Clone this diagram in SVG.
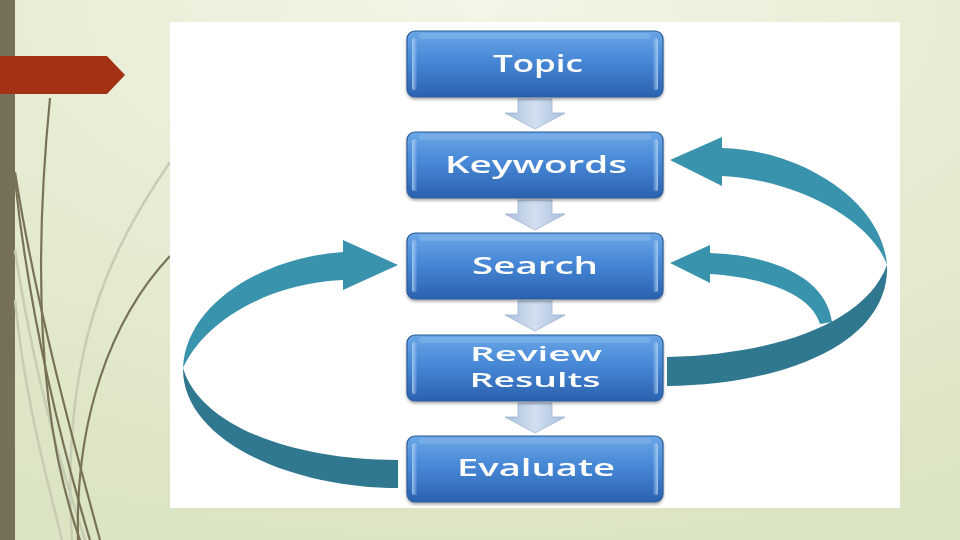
<svg xmlns="http://www.w3.org/2000/svg" width="960" height="540" viewBox="0 0 960 540">
<defs>
  <radialGradient id="bg" cx="0.5" cy="0" r="1">
    <stop offset="0" stop-color="#f3f5e6"/>
    <stop offset="1" stop-color="#dbe4c3"/>
  </radialGradient>
  <linearGradient id="box" x1="0" y1="0" x2="0" y2="1">
    <stop offset="0" stop-color="#6aa6e6"/>
    <stop offset="0.45" stop-color="#4788d6"/>
    <stop offset="1" stop-color="#2b61ae"/>
  </linearGradient>
  <linearGradient id="strip" x1="0" y1="0" x2="1" y2="0">
    <stop offset="0" stop-color="#a9cdf3" stop-opacity="0.9"/>
    <stop offset="1" stop-color="#a9cdf3" stop-opacity="0.1"/>
  </linearGradient>
  <linearGradient id="down" x1="0" y1="0" x2="1" y2="0">
    <stop offset="0" stop-color="#a9bfdc"/>
    <stop offset="0.5" stop-color="#d3dff0"/>
    <stop offset="1" stop-color="#a9bfdc"/>
  </linearGradient>
  <filter id="sh" x="-10%" y="-10%" width="120%" height="130%">
    <feGaussianBlur in="SourceAlpha" stdDeviation="1.5"/>
    <feOffset dx="0" dy="2"/>
    <feComponentTransfer><feFuncA type="linear" slope="0.35"/></feComponentTransfer>
    <feMerge><feMergeNode/><feMergeNode in="SourceGraphic"/></feMerge>
  </filter>
  <g id="boxshape">
    <rect x="0" y="0" width="256" height="66" rx="8" fill="url(#box)" stroke="#2b5a98" stroke-width="1.2"/>
    <rect x="5" y="7" width="5" height="52" rx="2.5" fill="url(#strip)"/>
    <rect x="246" y="7" width="5" height="52" rx="2.5" fill="url(#strip)" transform="rotate(180 248.5 33)"/>
    <rect x="12" y="2" width="232" height="6" rx="3" fill="#9cc6f0" opacity="0.35"/>
  </g>
  <path id="darrow" d="M -17 0 L 17 0 L 17 14 L 30 14 L 0 30 L -30 14 L -17 14 Z" fill="url(#down)" stroke="#9db3d2" stroke-width="0.8"/>
</defs>
<style>
  .lbl { font-family: "Open Sans", "DejaVu Sans", "Liberation Sans", sans-serif; font-weight: 600; font-size: 24px; fill: #ffffff; text-anchor: middle; }
  .lbl2 { font-size: 20px; }
  .deco { fill: none; stroke: #7a7257; stroke-width: 2.2; }
  .decol { fill: none; stroke: #c7ccb4; stroke-width: 2.5; }
  .teal1 { fill: #3a93ad; }
  .teal2 { fill: #2f7890; }
</style>

<rect width="960" height="540" fill="url(#bg)"/>
<rect x="0" y="0" width="15" height="540" fill="#76705a"/>

<!-- decorative lines -->
<path class="decol" d="M 170 162 C 110 250, 60 350, 72 540"/>
<path class="decol" d="M 15 250 C 30 350, 55 450, 85 540"/>
<path class="decol" d="M 15 300 C 25 400, 45 470, 62 540"/>
<path class="deco" d="M 50 98 C 38 220, 30 400, 80 540"/>
<path class="deco" d="M 15 172 C 35 300, 70 430, 100 540"/>
<path class="deco" d="M 170 256 C 110 320, 75 420, 78 540"/>
<path class="deco" d="M 15 180 C 30 320, 60 440, 90 540"/>

<!-- red tab -->
<polygon points="0,56 107,56 125,75 107,94 0,94" fill="#a33214"/>

<!-- panel -->
<rect x="170" y="22" width="730" height="486" fill="#ffffff"/>

<g id="connectors">
  <use href="#darrow" x="535" y="99"/>
  <use href="#darrow" x="535" y="200"/>
  <use href="#darrow" x="535" y="301"/>
  <use href="#darrow" x="535" y="403"/>
  <!-- left loop: Evaluate -> Search -->
  <path class="teal2" d="M 183 368 C 182 440, 290 488, 398 488 L 398 460 C 290 460, 200 425, 183 368 Z"/>
  <path class="teal1" d="M 183 368 C 186 305, 260 258, 343 252 L 343 240 L 398 265 L 343 290 L 343 280 C 270 283, 205 320, 183 368 Z"/>
  <!-- small right arrow: Review -> Search -->
  <path class="teal1" d="M 670 263 L 710 245 L 710 253 C 770 255, 826 276, 832 322 L 820 324 C 812 296, 770 278, 710 274 L 710 283 Z"/>
  <!-- big right arrow: Review -> Keywords -->
  <path class="teal1" d="M 670 160 L 722 137 L 722 148 C 800 150, 882 200, 887 265 C 872 222, 800 180, 722 176 L 722 186 Z"/>
  <path class="teal2" d="M 887 265 C 890 345, 780 385, 667 386 L 667 357 C 770 355, 865 325, 887 265 Z"/>
</g>

<g id="topic" filter="url(#sh)">
  <use href="#boxshape" x="407" y="31"/>
  <text class="lbl" x="538" y="72" textLength="90" lengthAdjust="spacingAndGlyphs">Topic</text>
</g>
<g id="keywords" filter="url(#sh)">
  <use href="#boxshape" x="407" y="132"/>
  <text class="lbl" x="536" y="173" textLength="182" lengthAdjust="spacingAndGlyphs">Keywords</text>
</g>
<g id="search" filter="url(#sh)">
  <use href="#boxshape" x="407" y="233"/>
  <text class="lbl" x="535" y="274" textLength="126" lengthAdjust="spacingAndGlyphs">Search</text>
</g>
<g id="review" filter="url(#sh)">
  <use href="#boxshape" x="407" y="335"/>
  <text class="lbl lbl2" x="536" y="361" textLength="132" lengthAdjust="spacingAndGlyphs">Review</text>
  <text class="lbl lbl2" x="535" y="387" textLength="131" lengthAdjust="spacingAndGlyphs">Results</text>
</g>
<g id="evaluate" filter="url(#sh)">
  <use href="#boxshape" x="407" y="436"/>
  <text class="lbl" x="536" y="476" textLength="158" lengthAdjust="spacingAndGlyphs">Evaluate</text>
</g>
</svg>
